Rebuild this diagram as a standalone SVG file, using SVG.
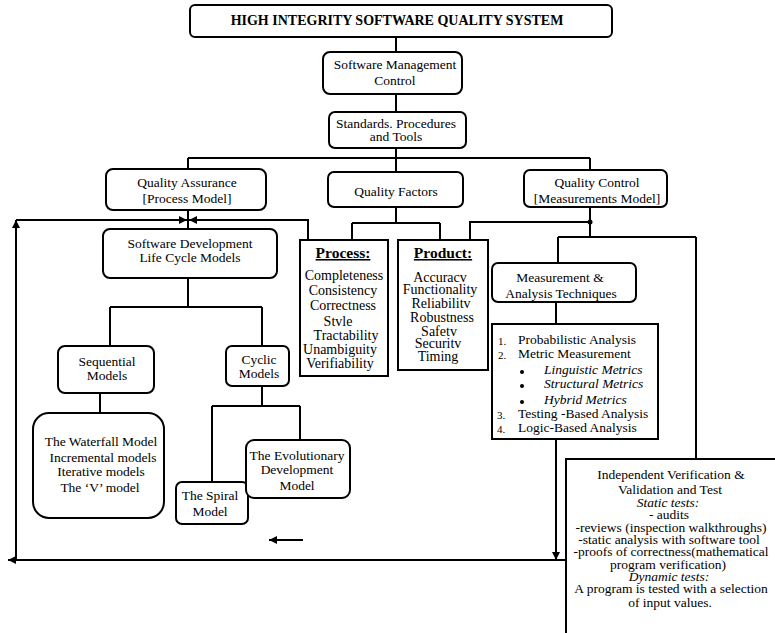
<svg xmlns="http://www.w3.org/2000/svg" width="775" height="633" viewBox="0 0 775 633">
  <style>
    .box { fill: #fff; stroke: #000; stroke-width: 2; }
    .line { fill: none; stroke: #000; stroke-width: 2; }
    text { font-family: "Liberation Serif", "Times New Roman", serif; font-size: 13.5px; fill: #000; }
    .c { text-anchor: middle; }
    .title { font-weight: bold; font-size: 14px; }
    .head { font-weight: bold; font-size: 15.5px; text-decoration: underline; }
    .it { font-style: italic; }
    .num { font-size: 11px; }
    .f14 { font-size: 14px; }
  </style>
  <defs>
    <marker id="arr" viewBox="0 0 8 8" markerWidth="8" markerHeight="8" refX="8" refY="4" orient="auto" markerUnits="userSpaceOnUse">
      <path d="M0,0 L8,4 L0,8 z" fill="#000"/>
    </marker>
  </defs>

  <rect width="775" height="633" fill="#fff"/>

  <!-- connectors -->
  <g id="connectors">
    <path class="line" d="M396,37 V52"/>
    <path class="line" d="M396,94 V112"/>
    <path class="line" d="M396,148 V172"/>
    <path class="line" d="M188,158 H590"/>
    <path class="line" d="M188,158 V169"/>
    <path class="line" d="M590,158 V170"/>
    <path class="line" d="M188,210 V229"/>
    <!-- feedback loop on the left -->
    <path class="line" d="M16,559 V220" marker-end="url(#arr)"/>
    <path class="line" d="M16,220 H187" marker-end="url(#arr)"/>
    <path class="line" d="M308,240 V220 H189" marker-end="url(#arr)"/>
    <path class="line" d="M566,560 H8" marker-end="url(#arr)"/>
    <path class="line" d="M303,540 H269" marker-end="url(#arr)"/>
    <!-- life cycle tree -->
    <path class="line" d="M188,278 V307"/>
    <path class="line" d="M110,307 H262"/>
    <path class="line" d="M110,307 V346"/>
    <path class="line" d="M262,307 V346"/>
    <path class="line" d="M100,393 V413"/>
    <path class="line" d="M262,386 V406"/>
    <path class="line" d="M212,406 H300"/>
    <path class="line" d="M212,406 V482"/>
    <path class="line" d="M300,406 V440"/>
    <!-- quality factors -->
    <path class="line" d="M396,207 V223"/>
    <path class="line" d="M352,223 H440"/>
    <path class="line" d="M352,223 V240"/>
    <path class="line" d="M440,223 V240"/>
    <path class="line" d="M470,240 V222 H590"/>
    <circle cx="590" cy="222" r="2.5" fill="#000"/>
    <!-- quality control -->
    <path class="line" d="M590,207 V237"/>
    <path class="line" d="M558,237 H696"/>
    <path class="line" d="M558,237 V263"/>
    <path class="line" d="M696,237 V459"/>
    <path class="line" d="M556,302 V324"/>
    <path class="line" d="M556,439 V560" marker-end="url(#arr)"/>
  </g>

  <g id="title">
    <rect class="box" x="190" y="5" width="422" height="32" rx="5"/>
    <text class="c title" x="397" y="25">HIGH INTEGRITY SOFTWARE QUALITY SYSTEM</text>
  </g>

  <g id="management">
    <rect class="box" x="323" y="52" width="139" height="42" rx="7"/>
    <text class="c" x="395" y="69">Software Management</text>
    <text class="c" x="395" y="85">Control</text>
  </g>

  <g id="standards">
    <rect class="box" x="329" y="112" width="137" height="36" rx="6"/>
    <text class="c" x="396" y="128">Standards. Procedures</text>
    <text class="c" x="396" y="141">and Tools</text>
  </g>

  <g id="assurance">
    <rect class="box" x="106" y="169" width="160" height="41" rx="7"/>
    <text class="c" x="187" y="187">Quality Assurance</text>
    <text class="c" x="187" y="203">[Process Model]</text>
  </g>

  <g id="factors">
    <rect class="box" x="328" y="172" width="135" height="35" rx="6"/>
    <text class="c" x="396" y="196">Quality Factors</text>
  </g>

  <g id="control">
    <rect class="box" x="524" y="170" width="143" height="37" rx="6"/>
    <text class="c" x="597" y="187">Quality Control</text>
    <text class="c" x="597" y="203">[Measurements Model]</text>
  </g>

  <g id="lifecycle">
    <rect class="box" x="103" y="229" width="174" height="49" rx="7"/>
    <text class="c" x="190" y="248">Software Development</text>
    <text class="c" x="190" y="262">Life Cycle Models</text>
  </g>

  <g id="sequential">
    <rect class="box" x="58" y="346" width="96" height="47" rx="7"/>
    <text class="c" x="107" y="366">Sequential</text>
    <text class="c" x="107" y="380">Models</text>
  </g>

  <g id="cyclic">
    <rect class="box" x="226" y="346" width="63" height="40" rx="6"/>
    <text class="c" x="259" y="364">Cyclic</text>
    <text class="c" x="259" y="378">Models</text>
  </g>

  <g id="sequential-models">
    <rect class="box" x="33" y="413" width="131" height="105" rx="16"/>
    <text class="c" x="101" y="446">The Waterfall Model</text>
    <text class="c" x="103" y="462">Incremental models</text>
    <text class="c" x="101" y="476">Iterative models</text>
    <text class="c" x="100" y="492">The ‘V’ model</text>
  </g>

  <g id="spiral">
    <rect class="box" x="176" y="482" width="72" height="42" rx="6"/>
    <text class="c" x="210" y="500">The Spiral</text>
    <text class="c" x="210" y="516">Model</text>
  </g>

  <g id="evolutionary">
    <rect class="box" x="246" y="440" width="104" height="58" rx="8"/>
    <text class="c" x="297" y="460">The Evolutionary</text>
    <text class="c" x="297" y="474">Development</text>
    <text class="c" x="297" y="490">Model</text>
  </g>

  <g id="process">
    <rect class="box" x="300" y="240" width="88" height="136"/>
    <text class="c head" x="343" y="258">Process:</text>
    <text class="c f14" x="344" y="280">Completeness</text>
    <text class="c f14" x="343" y="295">Consistency</text>
    <text class="c f14" x="343" y="310">Correctness</text>
    <text class="c f14" x="338" y="326">Stvle</text>
    <text class="c f14" x="346" y="340">Tractability</text>
    <text class="c f14" x="340" y="354">Unambiguity</text>
    <text class="c f14" x="340" y="368">Verifiability</text>
  </g>

  <g id="product">
    <rect class="box" x="398" y="240" width="90" height="130"/>
    <text class="c head" x="443" y="258">Product:</text>
    <text class="c f14" x="440" y="282">Accuracv</text>
    <text class="c f14" x="440" y="294">Functionality</text>
    <text class="c f14" x="441" y="308">Reliabilitv</text>
    <text class="c f14" x="442" y="322">Robustness</text>
    <text class="c f14" x="439" y="336">Safetv</text>
    <text class="c f14" x="438" y="348">Securitv</text>
    <text class="c f14" x="438" y="361">Timing</text>
  </g>

  <g id="measurement">
    <rect class="box" x="492" y="263" width="144" height="39" rx="6"/>
    <text class="c" x="560" y="282">Measurement &amp;</text>
    <text class="c" x="561" y="298">Analysis Techniques</text>
  </g>

  <g id="techniques">
    <rect class="box" x="492" y="324" width="166" height="115"/>
    <text class="num" x="498" y="345">1.</text>
    <text x="518" y="344">Probabilistic Analysis</text>
    <text class="num" x="498" y="359">2.</text>
    <text x="518" y="358">Metric Measurement</text>
    <circle cx="522" cy="372" r="2"/>
    <text class="it" x="544" y="374">Linguistic Metrics</text>
    <circle cx="522" cy="386" r="2"/>
    <text class="it" x="544" y="388">Structural Metrics</text>
    <circle cx="522" cy="402" r="2"/>
    <text class="it" x="544" y="404">Hybrid Metrics</text>
    <text class="num" x="497" y="419">3.</text>
    <text x="518" y="418">Testing -Based Analysis</text>
    <text class="num" x="497" y="433">4.</text>
    <text x="518" y="432">Logic-Based Analysis</text>
  </g>

  <g id="ivvt">
    <rect class="box" x="566" y="459" width="220" height="190"/>
    <text class="c" x="671" y="479">Independent Verification &amp;</text>
    <text class="c" x="670" y="494">Validation and Test</text>
    <text class="c it" x="668" y="507">Static tests:</text>
    <text class="c" x="669" y="519">- audits</text>
    <text class="c" x="671" y="532">-reviews (inspection walkthroughs)</text>
    <text class="c" x="669" y="544">-static analysis with software tool</text>
    <text class="c" x="671" y="556">-proofs of correctness(mathematical</text>
    <text class="c" x="668" y="569">program verification)</text>
    <text class="c it" x="669" y="581">Dynamic tests:</text>
    <text class="c" x="671" y="593">A program is tested with a selection</text>
    <text class="c" x="670" y="607">of input values.</text>
  </g>
</svg>
